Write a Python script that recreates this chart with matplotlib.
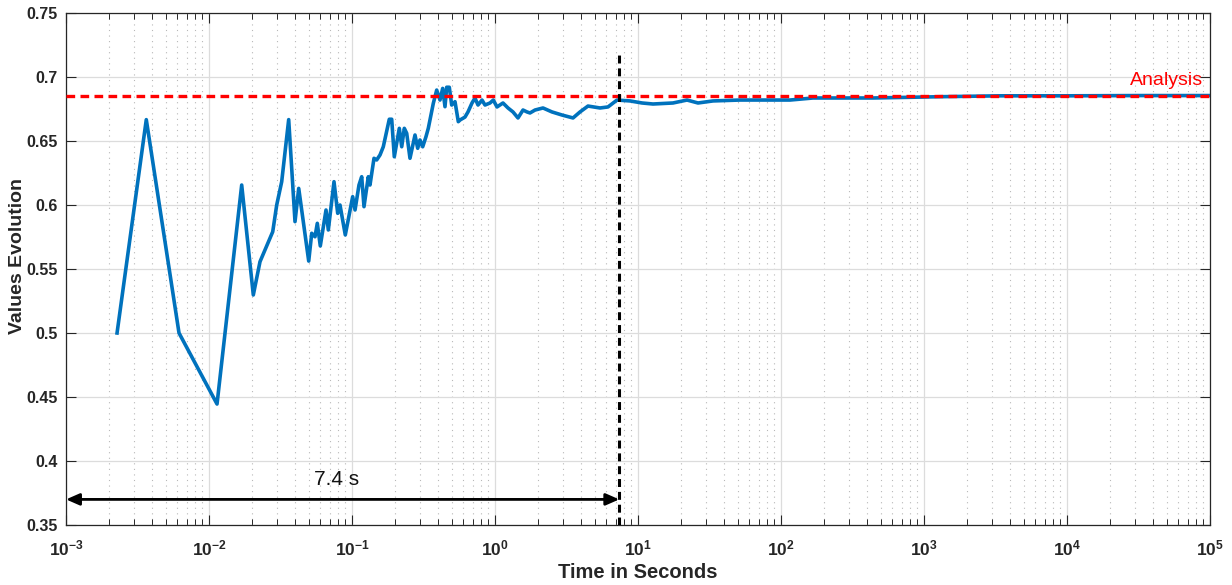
import matplotlib
matplotlib.use('Agg')
import matplotlib.pyplot as plt
from matplotlib.ticker import FixedLocator, FixedFormatter, NullFormatter

# ---------------- data ----------------
time_s = [0.002275, 0.003643, 0.00617, 0.01138, 0.01693, 0.02041, 0.02273, 0.0279,
          0.02975, 0.03224, 0.03608, 0.03994, 0.0424, 0.04981, 0.05228, 0.05512,
          0.05719, 0.06002, 0.0658, 0.0683, 0.07484, 0.07943, 0.08243, 0.08976,
          0.1011, 0.105, 0.1119, 0.1169, 0.1213, 0.130, 0.1336, 0.1425,
          0.1488, 0.157, 0.1655, 0.1823, 0.1895, 0.1976, 0.2142, 0.2227,
          0.2321, 0.2413, 0.2544, 0.2758, 0.288, 0.2989, 0.3122, 0.3292,
          0.3416, 0.3703, 0.3911, 0.4124, 0.4307, 0.447, 0.4594, 0.4791,
          0.498, 0.5252, 0.5539, 0.5692, 0.6167, 0.6473, 0.6906, 0.7246,
          0.7605, 0.8112, 0.8513, 0.9226, 0.973, 1.033, 1.137, 1.233,
          1.336, 1.448, 1.570, 1.674, 1.757, 1.905, 2.166, 2.503,
          2.94, 3.512, 3.931, 4.47, 5.425, 6.167, 7.131, 8.793,
          10.67, 12.73, 17.57, 22.02, 26.28, 33.45, 51.68, 115.6,
          167.4, 258.6, 439.9, 1294, 3400, 10000, 32400, 100000]
values = [0.5, 0.6667, 0.5, 0.4445, 0.6156, 0.5297, 0.5557, 0.5791,
          0.6, 0.6182, 0.6667, 0.587, 0.613, 0.5562, 0.5779, 0.5752,
          0.5857, 0.568, 0.5961, 0.5805, 0.6182, 0.5935, 0.6, 0.5766,
          0.6065, 0.5961, 0.6156, 0.6221, 0.5987, 0.6221, 0.6156, 0.6365,
          0.6352, 0.6391, 0.6455, 0.667, 0.667, 0.6377, 0.6599, 0.6455,
          0.6599, 0.656, 0.6365, 0.6547, 0.6443, 0.6508, 0.6455, 0.6534,
          0.6599, 0.6794, 0.6898, 0.682, 0.6911, 0.6768, 0.692, 0.692,
          0.6781, 0.6807, 0.6651, 0.6664, 0.6687, 0.6727, 0.6797, 0.6836,
          0.6781, 0.682, 0.6781, 0.6797, 0.682, 0.6766, 0.6797, 0.6758,
          0.6727, 0.668, 0.6742, 0.6727, 0.6719, 0.6742, 0.6758, 0.6727,
          0.6703, 0.668, 0.6727, 0.6773, 0.6758, 0.6766, 0.682, 0.6813,
          0.6797, 0.6789, 0.6797, 0.682, 0.6797, 0.6813, 0.682, 0.682,
          0.6836, 0.6836, 0.6836, 0.6846, 0.6853, 0.6853, 0.6855, 0.6855]

analysis_value = 0.6855
convergence_time = 7.4
convergence_line_top = 0.72
arrow_level = 0.37
x_tick_exponents = [-3, -2, -1, 0, 1, 2, 3, 4, 5]
y_ticks = [0.35, 0.4, 0.45, 0.5, 0.55, 0.6, 0.65, 0.7, 0.75]
y_tick_labels = ['0.35', '0.4', '0.45', '0.5', '0.55', '0.6', '0.65', '0.7', '0.75']

# ---------------- style ----------------
plt.rcParams['font.family'] = ['Liberation Sans', 'DejaVu Sans']
plt.rcParams['mathtext.fontset'] = 'custom'
plt.rcParams['mathtext.rm'] = 'Liberation Sans'
plt.rcParams['mathtext.bf'] = 'Liberation Sans:bold'

AX = '#262626'
BLUE = '#0072BD'

fig = plt.figure(figsize=(12.32, 5.85), dpi=100)
ax = fig.add_axes([66 / 1232, 1 - 525 / 585, (1210 - 66) / 1232, (525 - 13) / 585])

ax.set_xscale('log')
ax.set_xlim(10.0 ** x_tick_exponents[0], 10.0 ** x_tick_exponents[-1])
ax.set_ylim(y_ticks[0], y_ticks[-1])

# grid
ax.set_axisbelow(True)
ax.grid(which='major', axis='both', color='#dcdcdc', lw=0.9, ls='-')
ax.xaxis.grid(which='minor', color='#b8b8b8', lw=0.8, ls=(0, (1, 4)))

# data
ax.plot(time_s, values, color=BLUE, lw=2.6, solid_joinstyle='round', zorder=3)
ax.axhline(analysis_value, color='#FF0000', lw=2.4, dashes=(2.6, 1.6), zorder=4)
ax.plot([convergence_time, convergence_time], [y_ticks[0], convergence_line_top],
        color='black', lw=2.2, dashes=(2.6, 1.6), zorder=4)
ax.annotate('', xy=(10.0 ** x_tick_exponents[0], arrow_level),
            xytext=(convergence_time, arrow_level),
            arrowprops=dict(arrowstyle='<|-|>,head_length=0.8,head_width=0.35',
                            color='black', lw=2.0, shrinkA=0, shrinkB=0), zorder=5)
ax.text(0.0785, 0.3855, '7.4 s', ha='center', va='center', fontsize=15, color='#111111')
ax.text(8.9e4, 0.6975, 'Analysis', ha='right', va='center', fontsize=14, color='#FF0000')

# ticks
ax.xaxis.set_major_locator(FixedLocator([10.0 ** e for e in x_tick_exponents]))
ax.xaxis.set_major_formatter(FixedFormatter([r'$\mathbf{10^{%d}}$' % e for e in x_tick_exponents]))
minor = [m * 10.0 ** e for e in x_tick_exponents[:-1] for m in range(2, 10)]
ax.xaxis.set_minor_locator(FixedLocator(minor))
ax.xaxis.set_minor_formatter(NullFormatter())
ax.yaxis.set_major_locator(FixedLocator(y_ticks))
ax.yaxis.set_major_formatter(FixedFormatter(y_tick_labels))

ax.tick_params(which='both', direction='in', top=True, right=True, colors=AX)
ax.tick_params(which='major', length=7.5, width=0.8)
ax.tick_params(which='minor', length=4, width=0.7)
ax.tick_params(axis='x', which='major', pad=10, labelsize=12.5)
ax.tick_params(axis='y', which='major', pad=6, labelsize=11.5)
for lab in ax.get_yticklabels():
    lab.set_fontweight('bold')

for s in ax.spines.values():
    s.set_color(AX)
    s.set_linewidth(0.9)

ax.set_xlabel('Time in Seconds', fontsize=14.5, fontweight='bold', color=AX, va='top')
ax.set_ylabel('Values Evolution', fontsize=14, fontweight='bold', color=AX)
ax.xaxis.set_label_coords(0.5, -(563 - 525) / 512)
ax.yaxis.set_label_coords((26 - 66) / 1144, (525 - 256) / 512)

fig.savefig('out.png', dpi=100)
